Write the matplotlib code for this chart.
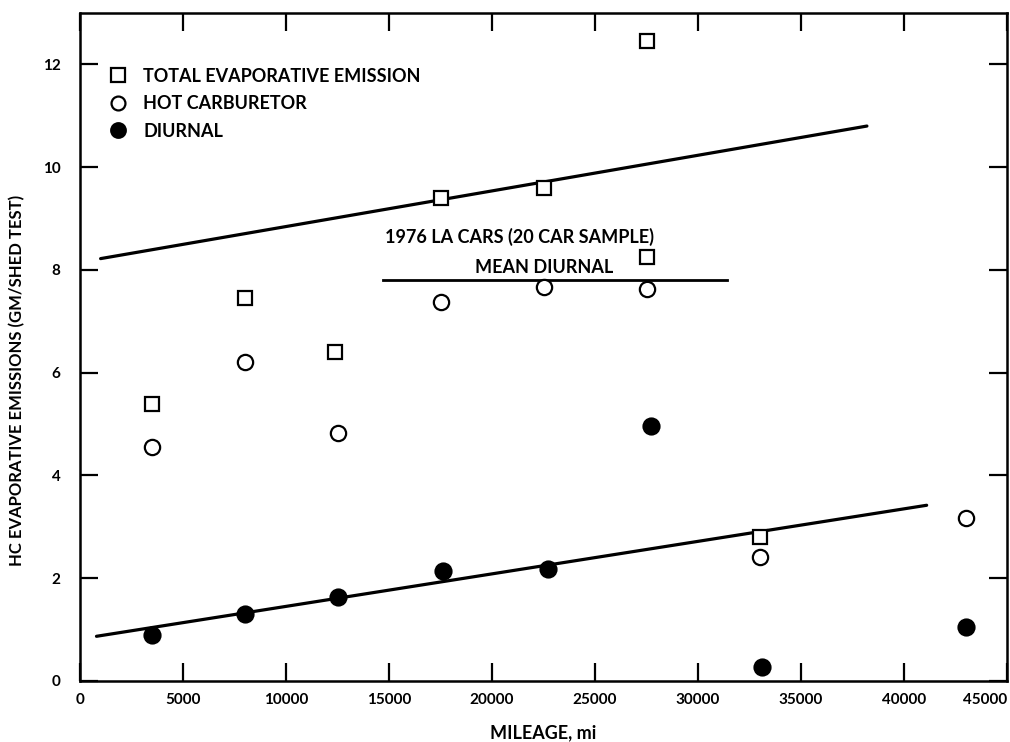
import matplotlib
matplotlib.use("Agg")
import matplotlib.pyplot as plt
from matplotlib.lines import Line2D

plt.rcParams['font.family'] = ['Lato', 'DejaVu Sans']

# Mileage (mi) and emissions (gm per SHED test)
total_miles = [3500, 8000, 12400, 17500, 22500, 27500, 27500, 33000]
total_emis = [5.4, 7.45, 6.4, 9.4, 9.6, 12.45, 8.25, 2.8]

hotcarb_miles = [3500, 8000, 12500, 17500, 22500, 27500, 33000, 43000]
hotcarb_emis = [4.55, 6.2, 4.82, 7.38, 7.67, 7.63, 2.42, 3.18]

diurnal_miles = [3500, 8000, 12500, 17600, 22700, 27700, 33100, 43000]
diurnal_emis = [0.9, 1.3, 1.63, 2.14, 2.18, 4.96, 0.27, 1.05]

# Fitted trend lines (end points) and 1976 LA mean diurnal level
total_fit_x = [1000, 38200]
total_fit_y = [8.22, 10.8]
diurnal_fit_x = [800, 41100]
diurnal_fit_y = [0.87, 3.42]
mean_diurnal_x = [14700, 31400]
mean_diurnal_y = 7.8

x_ticks = [0, 5000, 10000, 15000, 20000, 25000, 30000, 35000, 40000, 45000]
y_ticks = [0, 2, 4, 6, 8, 10, 12]

fig = plt.figure(figsize=(10.10, 7.42), dpi=100)
ax = fig.add_axes([80 / 1010, 1 - 681 / 742, (1007 - 80) / 1010, (681 - 13) / 742])

ms = 11
mew = 1.6
ax.plot(total_fit_x, total_fit_y, color='black', lw=2.3, solid_capstyle='round', zorder=2)
ax.plot(diurnal_fit_x, diurnal_fit_y, color='black', lw=2.3, solid_capstyle='round', zorder=2)
ax.plot(mean_diurnal_x, [mean_diurnal_y, mean_diurnal_y], color='black', lw=2.0, zorder=2)

ax.plot(total_miles, total_emis, linestyle='none', marker='s', ms=ms - 0.5,
        mfc='white', mec='black', mew=mew, zorder=3)
ax.plot(hotcarb_miles, hotcarb_emis, linestyle='none', marker='o', ms=ms,
        mfc='white', mec='black', mew=mew, zorder=3)
ax.plot(diurnal_miles, diurnal_emis, linestyle='none', marker='o', ms=ms + 0.5,
        mfc='black', mec='black', mew=mew, zorder=3)

ax.text(21320, 8.64, '1976 LA CARS (20 CAR SAMPLE)', ha='center', va='center',
        fontsize=13, fontweight='bold')
ax.text(22530, 8.05, 'MEAN DIURNAL', ha='center', va='center',
        fontsize=13, fontweight='bold')

ax.set_xlim(0, 45000)
ax.set_ylim(0, 13)
ax.set_xticks(x_ticks)
ax.set_yticks(y_ticks)
ax.set_xticklabels([str(t) for t in x_ticks])
ax.set_yticklabels([str(t) for t in y_ticks])
ax.get_xticklabels()[-1].set_horizontalalignment('right')

ax.tick_params(axis='both', direction='in', length=13, width=1.6,
               top=True, right=True, labelsize=11)
ax.tick_params(axis='x', pad=9)
ax.tick_params(axis='y', pad=14)
for lab in ax.get_xticklabels() + ax.get_yticklabels():
    lab.set_fontweight('bold')
for s in ax.spines.values():
    s.set_linewidth(1.8)

fig.text(543 / 1010, 1 - 733 / 742, 'MILEAGE, mi', ha='center', va='center',
         fontsize=13, fontweight='bold')
fig.text(17 / 1010, 1 - 380 / 742, 'HC EVAPORATIVE EMISSIONS (GM/SHED TEST)',
         ha='center', va='center', rotation=90, fontsize=12, fontweight='bold')

handles = [
    Line2D([], [], linestyle='none', marker='s', ms=ms - 1.5, mfc='white', mec='black', mew=mew),
    Line2D([], [], linestyle='none', marker='o', ms=ms - 1, mfc='white', mec='black', mew=mew),
    Line2D([], [], linestyle='none', marker='o', ms=ms - 0.5, mfc='black', mec='black', mew=mew),
]
labels = ['TOTAL EVAPORATIVE EMISSION', 'HOT CARBURETOR', 'DIURNAL']
ax.legend(handles, labels, loc='upper left', bbox_to_anchor=(0.031, 0.918),
          frameon=False, handlelength=1.0, handletextpad=0.9, labelspacing=0.58,
          prop={'weight': 'bold', 'size': 13}, borderaxespad=0, borderpad=0)

fig.savefig('out.png', dpi=100, facecolor='white')
